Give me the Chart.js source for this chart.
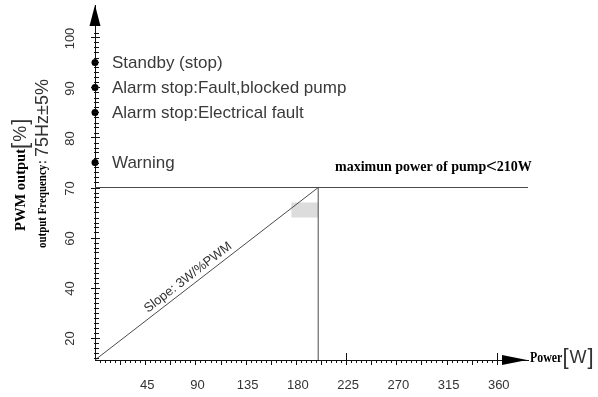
<!DOCTYPE html>
<html>
<head>
<meta charset="utf-8">
<script src="https://cdn.jsdelivr.net/npm/chart.js@4.4.0/dist/chart.umd.min.js"></script>
<style>
  html, body { margin: 0; padding: 0; background: #fff; }
  #wrap { width: 598px; height: 397px; }
</style>
</head>
<body>
<div id="wrap"><canvas id="c" width="598" height="397"></canvas></div>
<script>
// Axis tick labels
const yTickLabels = [20, 40, 60, 70, 80, 90, 100];
const xTickLabels = [45, 90, 135, 180, 225, 270, 315, 360];

// The PWM axis is spaced evenly by label, not by value: each stop gets one slot
const yAxisStops = [10, 20, 40, 60, 70, 80, 90, 100];
const yAxisSlots = [-0.5, 0, 1, 2, 3, 4, 5, 6];

// Status levels marked on the PWM axis
const statusLabels = ['Standby (stop)', 'Alarm stop:Fault,blocked pump', 'Alarm stop:Electrical fault', 'Warning'];
const statusPwm = [95, 90, 85, 75];

// Power curve: PWM rises linearly with power up to the limit
const curvePower = [0, 200];
const curvePwm = [11, 70];
const limitPwm = 70;
const limitPower = 200;
const powerAxisMax = 388;
const pwmAxisMin = 11;

// Shaded marker near the end of the ramp
const shadePower = [176, 200];
const shadePwm = [64, 67];

const SANS = '"Liberation Sans", Arial, sans-serif';
const SERIF = '"Liberation Serif", "Times New Roman", serif';

function slot(v) {
  for (let i = 0; i < yAxisStops.length - 1; i++) {
    const a = yAxisStops[i], b = yAxisStops[i + 1];
    if (v <= b || i === yAxisStops.length - 2) {
      const t = (v - a) / (b - a);
      return yAxisSlots[i] + t * (yAxisSlots[i + 1] - yAxisSlots[i]);
    }
  }
}

const yMinSlot = slot(pwmAxisMin);
const yMaxSlot = yMinSlot + 7.1;

const lineStyle = { showLine: true, borderColor: '#4a4a4a', borderWidth: 1, pointRadius: 0, fill: false };

// Draws a unit in wide square brackets, e.g. "[ W ]", starting at x; returns the end x
function bracketUnit(ctx, unit, x, y) {
  ctx.font = '22px ' + SANS;
  ctx.fillText('[', x, y);
  x += ctx.measureText('[').width + 1;
  ctx.font = '18px ' + SANS;
  ctx.fillText(unit, x, y);
  x += ctx.measureText(unit).width + 1;
  ctx.font = '22px ' + SANS;
  ctx.fillText(']', x, y);
  return x + ctx.measureText(']').width;
}

// Draws text squeezed horizontally to mimic a condensed face
function squeezed(ctx, text, x, y, sx) {
  ctx.save();
  ctx.translate(x, y);
  ctx.scale(sx, 1);
  ctx.fillText(text, 0, 0);
  ctx.restore();
  return x + ctx.measureText(text).width * sx;
}

const decorations = {
  id: 'decorations',
  beforeDatasetsDraw(chart) {
    const { ctx, scales: { x, y } } = chart;
    ctx.save();
    ctx.fillStyle = '#dcdcdc';
    const x0 = x.getPixelForValue(shadePower[0]), x1 = x.getPixelForValue(shadePower[1]);
    const y0 = y.getPixelForValue(slot(shadePwm[1])), y1 = y.getPixelForValue(slot(shadePwm[0]));
    ctx.fillRect(x0, y0, x1 - x0, y1 - y0);
    ctx.restore();
  },
  afterDraw(chart) {
    const { ctx, chartArea, scales: { x, y } } = chart;
    const ox = x.getPixelForValue(0);
    const oy = y.getPixelForValue(yMinSlot);
    ctx.save();
    ctx.strokeStyle = '#111';
    ctx.fillStyle = '#000';
    ctx.lineWidth = 1;

    // arrow heads
    ctx.beginPath();
    ctx.moveTo(ox, chartArea.top);
    ctx.lineTo(ox - 5.5, chartArea.top + 21);
    ctx.lineTo(ox + 5.5, chartArea.top + 21);
    ctx.closePath();
    ctx.fill();
    const ax = chartArea.right - 1;
    ctx.beginPath();
    ctx.moveTo(ax, oy);
    ctx.lineTo(ax - 25, oy - 5);
    ctx.lineTo(ax - 25, oy + 5);
    ctx.closePath();
    ctx.fill();

    // y-axis tick marks: ten per slot
    ctx.beginPath();
    for (let k = Math.ceil(yMinSlot * 10); ; k++) {
      const py = Math.round(y.getPixelForValue(k / 10)) + 0.5;
      if (py < chartArea.top + 24) break;
      const major = k % 10 === 0;
      ctx.moveTo(ox - (major ? 4 : 1), py);
      ctx.lineTo(ox + (major ? 5 : 4), py);
    }
    ctx.stroke();

    // x-axis tick marks
    ctx.beginPath();
    for (let k = 1; k <= 80; k++) {
      const v = k * 4.5;
      const px = Math.round(x.getPixelForValue(v)) + 0.5;
      const major = k % 5 === 0;
      const tall = v === 225 || v === 360;
      ctx.moveTo(px, oy - (tall ? 7 : 0));
      ctx.lineTo(px, oy + (major ? 5 : 3));
    }
    ctx.stroke();

    // y tick labels (rotated)
    ctx.fillStyle = '#333';
    ctx.font = '13px ' + SANS;
    ctx.textAlign = 'center';
    ctx.textBaseline = 'middle';
    yTickLabels.forEach(v => {
      const py = y.getPixelForValue(slot(v)) + 1;
      ctx.save();
      ctx.translate(70, py);
      ctx.rotate(-Math.PI / 2);
      ctx.fillText(String(v), 0, 0);
      ctx.restore();
    });

    // status labels
    ctx.font = '17px ' + SANS;
    ctx.textAlign = 'left';
    ctx.fillStyle = '#3a3a3a';
    statusLabels.forEach((t, i) => {
      ctx.fillText(t, ox + 17, y.getPixelForValue(slot(statusPwm[i])) + 1);
    });

    // limit caption
    const ly = y.getPixelForValue(slot(limitPwm)) - 20;
    let cx = 335;
    ctx.fillStyle = '#000';
    ctx.textBaseline = 'middle';
    ctx.font = 'bold 14px ' + SERIF;
    const cap1 = 'maximun power of pump';
    ctx.fillText(cap1, cx, ly);
    cx += ctx.measureText(cap1).width;
    ctx.font = '18px ' + SANS;
    ctx.fillText('<', cx, ly);
    cx += ctx.measureText('<').width;
    ctx.font = 'bold 14px ' + SERIF;
    ctx.fillText('210W', cx, ly);

    // slope caption along the ramp
    const sx0 = x.getPixelForValue(curvePower[0]), sy0 = y.getPixelForValue(slot(curvePwm[0]));
    const sx1 = x.getPixelForValue(curvePower[1]), sy1 = y.getPixelForValue(slot(curvePwm[1]));
    const ang = Math.atan2(sy1 - sy0, sx1 - sx0);
    ctx.save();
    ctx.translate(sx0 + (sx1 - sx0) * 0.44, sy0 + (sy1 - sy0) * 0.44);
    ctx.rotate(ang);
    ctx.font = '13px ' + SANS;
    ctx.fillStyle = '#333';
    ctx.textAlign = 'center';
    ctx.textBaseline = 'bottom';
    ctx.fillText('Slope: 3W/%PWM', 0, -2);
    ctx.restore();

    // x-axis title
    ctx.textAlign = 'left';
    ctx.textBaseline = 'middle';
    ctx.fillStyle = '#000';
    ctx.font = 'bold 14px ' + SERIF;
    let wx = squeezed(ctx, 'Power', 530, oy - 2, 0.85);
    ctx.fillStyle = '#333';
    bracketUnit(ctx, 'W', wx, oy - 2);

    // y-axis title, two rotated lines
    ctx.save();
    ctx.translate(21, 231);
    ctx.rotate(-Math.PI / 2);
    ctx.textBaseline = 'middle';
    ctx.fillStyle = '#000';
    ctx.font = 'bold 15px ' + SERIF;
    let tx = squeezed(ctx, 'PWM output', 0, 0, 0.97);
    ctx.fillStyle = '#333';
    bracketUnit(ctx, '%', tx, 0);
    ctx.restore();

    ctx.save();
    ctx.translate(43, 248);
    ctx.rotate(-Math.PI / 2);
    ctx.textBaseline = 'middle';
    ctx.fillStyle = '#000';
    ctx.font = 'bold 13px ' + SERIF;
    tx = squeezed(ctx, 'output Frequency', 0, 0, 0.84);
    tx = squeezed(ctx, '：', tx - 1, 0, 0.6);
    ctx.font = '18px ' + SANS;
    ctx.fillStyle = '#333';
    ctx.fillText('75Hz±5%', tx + 1, 0);
    ctx.restore();

    ctx.restore();
  }
};

new Chart(document.getElementById('c'), {
  type: 'scatter',
  data: {
    datasets: [
      Object.assign({ data: [{ x: 0, y: slot(limitPwm) }, { x: powerAxisMax, y: slot(limitPwm) }] }, lineStyle),
      Object.assign({ data: [{ x: limitPower, y: slot(pwmAxisMin) }, { x: limitPower, y: slot(limitPwm) }] }, lineStyle),
      Object.assign({ data: curvePower.map((p, i) => ({ x: p, y: slot(curvePwm[i]) })) }, lineStyle),
      {
        data: statusPwm.map(v => ({ x: 0, y: slot(v) })),
        pointRadius: 3.5,
        pointBackgroundColor: '#000',
        pointBorderColor: '#000',
        borderWidth: 0,
        clip: false
      }
    ]
  },
  options: {
    responsive: false,
    animation: false,
    layout: { padding: { top: 5, right: 70, left: 0, bottom: 0 } },
    plugins: { legend: { display: false }, tooltip: { enabled: false } },
    scales: {
      x: {
        type: 'linear',
        min: 0,
        max: powerAxisMax,
        grid: { display: false, drawTicks: false },
        border: { display: true, color: '#111', width: 1 },
        afterBuildTicks: s => { s.ticks = xTickLabels.map(v => ({ value: v })); },
        afterFit: s => { s.height = 37; },
        ticks: {
          autoSkip: false,
          maxRotation: 0,
          padding: 18,
          labelOffset: 2,
          color: '#333',
          font: { family: SANS, size: 13 }
        }
      },
      y: {
        type: 'linear',
        min: yMinSlot,
        max: yMaxSlot,
        grid: { display: false, drawTicks: false },
        border: { display: true, color: '#111', width: 1 },
        ticks: { display: false },
        afterFit: s => { s.width = 95; }
      }
    }
  },
  plugins: [decorations]
});
</script>
</body>
</html>
